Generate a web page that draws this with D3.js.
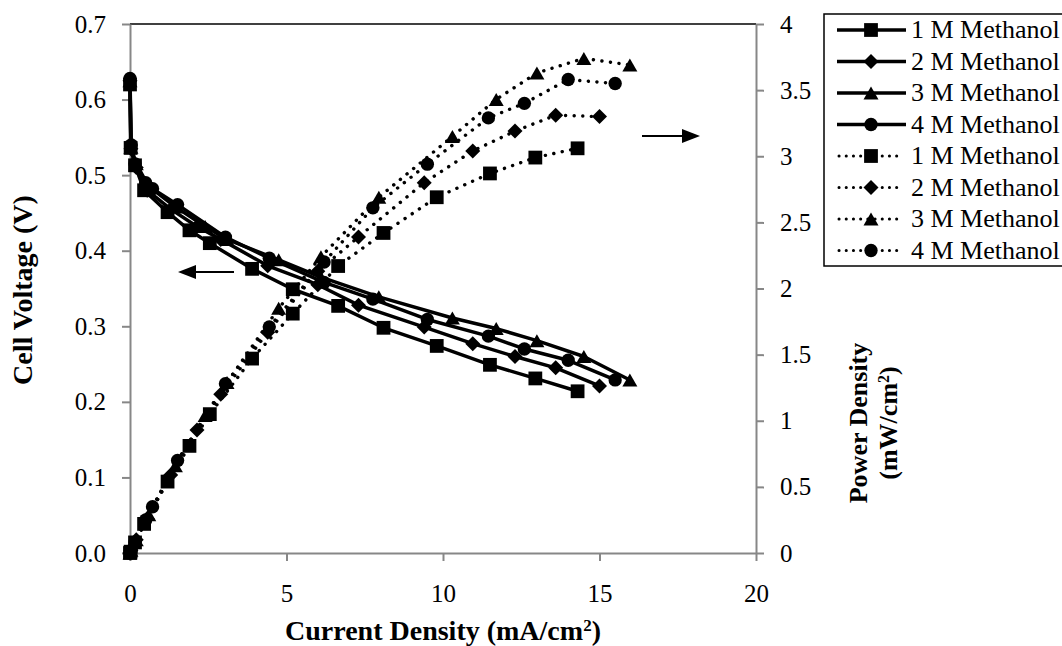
<!DOCTYPE html>
<html>
<head>
<meta charset="utf-8">
<script src="https://cdn.jsdelivr.net/npm/d3@7"></script>
<style>
    body { margin: 0; background: #fff; }
    svg { display: block; }
    svg text { font-family: "Liberation Serif", "Times New Roman", serif; fill: #000; }
</style>
</head>
<body>
<div id="chart"></div>
<script>
// current density (mA/cm2), cell voltage (V), power density (mW/cm2)
const current1M = [0, 0.02, 0.16, 0.45, 1.2, 1.9, 2.55, 3.9, 5.2, 6.65, 8.1, 9.8, 11.5, 12.95, 14.3];
const voltage1M = [0.62, 0.536, 0.513, 0.48, 0.451, 0.427, 0.41, 0.376, 0.349, 0.327, 0.298, 0.274, 0.249, 0.231, 0.214];
const power1M = [0, 0.01, 0.08, 0.22, 0.54, 0.81, 1.05, 1.47, 1.81, 2.17, 2.42, 2.69, 2.87, 2.99, 3.06];

const current2M = [0, 0.03, 0.2, 0.55, 1.3, 2.14, 2.9, 4.4, 6.0, 7.3, 9.4, 10.95, 12.3, 13.6, 15.0];
const voltage2M = [0.625, 0.535, 0.51, 0.48, 0.455, 0.432, 0.415, 0.38, 0.355, 0.328, 0.299, 0.277, 0.26, 0.245, 0.221];
const power2M = [0, 0.02, 0.1, 0.26, 0.59, 0.93, 1.2, 1.67, 2.13, 2.39, 2.8, 3.04, 3.19, 3.31, 3.3];

const current3M = [0, 0.03, 0.2, 0.6, 1.45, 2.4, 3.1, 4.75, 6.1, 7.95, 10.3, 11.7, 13.0, 14.5, 15.97];
const voltage3M = [0.625, 0.537, 0.515, 0.485, 0.458, 0.432, 0.415, 0.388, 0.365, 0.339, 0.311, 0.297, 0.281, 0.26, 0.229];
const power3M = [0, 0.02, 0.1, 0.29, 0.66, 1.04, 1.29, 1.85, 2.24, 2.69, 3.15, 3.43, 3.63, 3.74, 3.69];

const current4M = [0, 0.04, 0.16, 0.5, 0.72, 1.52, 3.05, 4.45, 6.2, 7.76, 9.5, 11.45, 12.6, 14.0, 15.5];
const voltage4M = [0.628, 0.54, 0.515, 0.49, 0.482, 0.461, 0.418, 0.39, 0.358, 0.336, 0.309, 0.287, 0.27, 0.255, 0.229];
const power4M = [0, 0.02, 0.08, 0.25, 0.35, 0.7, 1.28, 1.71, 2.2, 2.61, 2.94, 3.29, 3.4, 3.58, 3.55];

const seriesNames = ["1 M Methanol", "2 M Methanol", "3 M Methanol", "4 M Methanol"];
const markerShapes = ["square", "diamond", "triangle", "circle"];

const xTicks = [0, 5, 10, 15, 20];
const yLeftTicks = [0, 0.1, 0.2, 0.3, 0.4, 0.5, 0.6, 0.7];
const yRightTicks = [0, 0.5, 1, 1.5, 2, 2.5, 3, 3.5, 4];

const width = 1062;
const height = 646;
const plot = { left: 130, right: 756, top: 24, bottom: 553 };
const axisGrey = "#878787";

const svg = d3.select("#chart")
    .append("svg")
    .attr("width", width)
    .attr("height", height);

const x = d3.scaleLinear().domain([0, 20]).range([plot.left, plot.right]);
const yLeft = d3.scaleLinear().domain([0, 0.7]).range([plot.bottom, plot.top]);
const yRight = d3.scaleLinear().domain([0, 4]).range([plot.bottom, plot.top]);

// top border of the plot area
svg.append("line")
    .attr("x1", plot.left).attr("x2", plot.right)
    .attr("y1", plot.top).attr("y2", plot.top)
    .attr("stroke", "#000")
    .attr("stroke-width", 1.5);

function styleAxis(g) {
    g.select(".domain").attr("stroke", axisGrey).attr("stroke-width", 2);
    g.selectAll(".tick line").attr("stroke", axisGrey).attr("stroke-width", 2);
    g.selectAll(".tick text").attr("font-size", 25);
}

svg.append("g")
    .attr("transform", `translate(0, ${plot.bottom})`)
    .call(d3.axisBottom(x).tickValues(xTicks).tickSize(8).tickSizeOuter(0).tickPadding(23))
    .call(styleAxis);

svg.append("g")
    .attr("transform", `translate(${plot.left}, 0)`)
    .call(d3.axisLeft(yLeft).tickValues(yLeftTicks).tickFormat(d3.format(".1f")).tickSize(8).tickSizeOuter(0).tickPadding(16))
    .call(styleAxis);

svg.append("g")
    .attr("transform", `translate(${plot.right}, 0)`)
    .call(d3.axisRight(yRight).tickValues(yRightTicks).tickFormat(d3.format("")).tickSize(8).tickSizeOuter(0).tickPadding(16))
    .call(styleAxis);

// axis titles
svg.append("text")
    .attr("x", 443)
    .attr("y", 640)
    .attr("text-anchor", "middle")
    .attr("font-size", 28)
    .attr("font-weight", "bold")
    .html('Current Density (mA/cm<tspan baseline-shift="super" font-size="17">2</tspan>)');

svg.append("text")
    .attr("transform", "translate(32, 290) rotate(-90)")
    .attr("text-anchor", "middle")
    .attr("font-size", 28)
    .attr("font-weight", "bold")
    .text("Cell Voltage (V)");

svg.append("text")
    .attr("transform", "translate(867, 423) rotate(-90)")
    .attr("text-anchor", "middle")
    .attr("font-size", 26)
    .attr("font-weight", "bold")
    .text("Power Density");

svg.append("text")
    .attr("transform", "translate(897, 423) rotate(-90)")
    .attr("text-anchor", "middle")
    .attr("font-size", 26)
    .attr("font-weight", "bold")
    .html('(mW/cm<tspan baseline-shift="super" font-size="16">2</tspan>)');

// marker drawing
function markerPath(shape) {
    if (shape === "square") return d3.symbol(d3.symbolSquare, 190)();
    if (shape === "circle") return d3.symbol(d3.symbolCircle, 140)();
    if (shape === "triangle") {
        const h = 13, w = 15;
        return `M0,${-h / 2}L${w / 2},${h / 2}L${-w / 2},${h / 2}Z`;
    }
    const r = 7.5;
    return `M0,${-r}L${r},0L0,${r}L${-r},0Z`;
}

const polarization = [
    { i: current1M, v: voltage1M },
    { i: current2M, v: voltage2M },
    { i: current3M, v: voltage3M },
    { i: current4M, v: voltage4M }
];
const powerCurves = [
    { i: current1M, p: power1M },
    { i: current2M, p: power2M },
    { i: current3M, p: power3M },
    { i: current4M, p: power4M }
];

const plotArea = svg.append("g");

function drawSeries(points, shape, dotted) {
    const line = d3.line().x(d => d[0]).y(d => d[1]);
    const path = plotArea.append("path")
        .datum(points)
        .attr("d", line)
        .attr("fill", "none")
        .attr("stroke", "#000")
        .attr("stroke-linejoin", "round");
    if (dotted) {
        path.attr("stroke-width", 3.4)
            .attr("stroke-linecap", "round")
            .attr("stroke-dasharray", "0.1 8.5");
    } else {
        path.attr("stroke-width", 3.5);
    }
    plotArea.selectAll(null)
        .data(points)
        .enter()
        .append("path")
        .attr("d", markerPath(shape))
        .attr("transform", d => `translate(${d[0]}, ${d[1]})`)
        .attr("fill", "#000");
}

polarization.forEach((s, k) => {
    const pts = s.i.map((c, j) => [x(c), yLeft(s.v[j])]);
    drawSeries(pts, markerShapes[k], false);
});

powerCurves.forEach((s, k) => {
    const pts = s.i.map((c, j) => [x(c), yRight(s.p[j])]);
    drawSeries(pts, markerShapes[k], true);
});

// arrows pointing to the relevant axis
function arrow(x1, x2, yy) {
    const dir = Math.sign(x2 - x1);
    const headLen = 18, headHalf = 7;
    svg.append("line")
        .attr("x1", x1).attr("x2", x2 - dir * headLen)
        .attr("y1", yy).attr("y2", yy)
        .attr("stroke", "#000").attr("stroke-width", 2);
    svg.append("path")
        .attr("d", `M${x2},${yy}L${x2 - dir * headLen},${yy - headHalf}L${x2 - dir * headLen},${yy + headHalf}Z`)
        .attr("fill", "#000");
}
arrow(234, 178, 272);
arrow(642, 700, 136);

// legend
const legend = svg.append("g");
legend.append("rect")
    .attr("x", 824).attr("y", 14)
    .attr("width", 250).attr("height", 252)
    .attr("fill", "#fff")
    .attr("stroke", "#000")
    .attr("stroke-width", 1.5);

const legendRows = [];
[false, true].forEach(dotted => {
    seriesNames.forEach((name, k) => legendRows.push({ name, shape: markerShapes[k], dotted }));
});

legendRows.forEach((row, idx) => {
    const yy = 30 + idx * 31.5;
    const g = legend.append("g");
    const ln = g.append("line")
        .attr("x1", 837).attr("x2", 906)
        .attr("y1", yy).attr("y2", yy)
        .attr("stroke", "#000");
    if (row.dotted) {
        ln.attr("x1", 839).attr("x2", 903)
            .attr("stroke-width", 3)
            .attr("stroke-linecap", "round")
            .attr("stroke-dasharray", "0.1 7.1");
    } else {
        ln.attr("stroke-width", 3.5);
    }
    g.append("path")
        .attr("d", markerPath(row.shape))
        .attr("transform", `translate(871, ${yy})`)
        .attr("fill", "#000");
    g.append("text")
        .attr("x", 911)
        .attr("y", yy + 8)
        .attr("font-size", 26)
        .text(row.name);
});
</script>
</body>
</html>
